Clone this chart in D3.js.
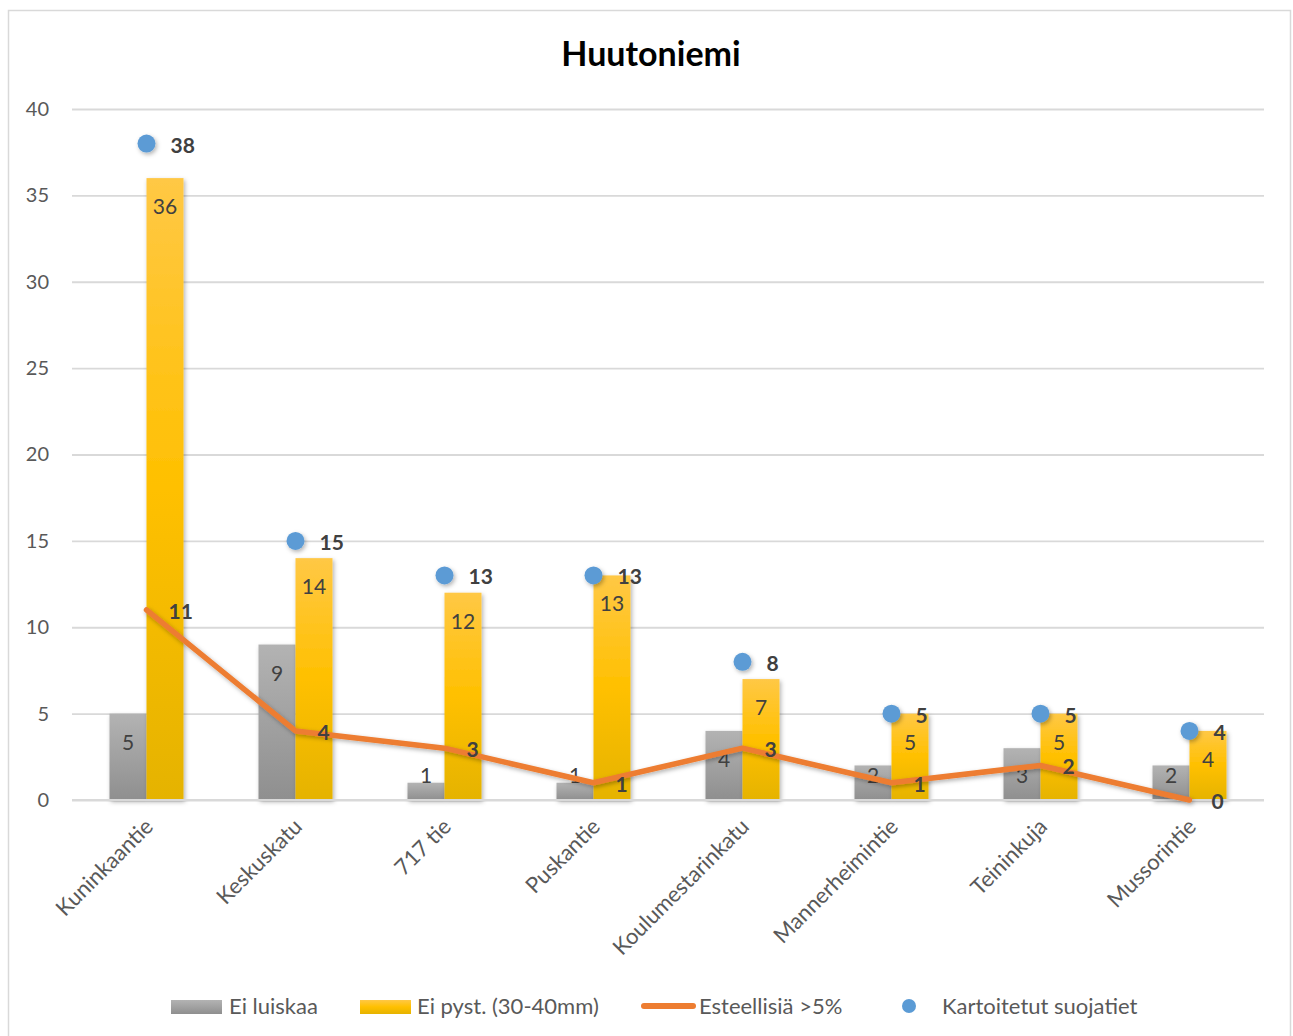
<!DOCTYPE html>
<html><head><meta charset="utf-8">
<script src="https://cdn.jsdelivr.net/npm/d3@7"></script>
<style>
body{margin:0;background:#fff;}
svg{display:block;font-family:Lato,"Open Sans",sans-serif;}
</style></head>
<body>
<svg id="c" width="1293" height="1036"></svg>
<script>
const categories = ["Kuninkaantie","Keskuskatu","717 tie","Puskantie","Koulumestarinkatu","Mannerheimintie","Teininkuja","Mussorintie"];
const eiLuiskaa = [5,9,1,1,4,2,3,2];
const eiPyst = [36,14,12,13,7,5,5,4];
const esteellisia = [11,4,3,1,3,1,2,0];
const kartoitetut = [38,15,13,13,8,5,5,4];
const yTicks = [0,5,10,15,20,25,30,35,40];
const seriesNames = ["Ei luiskaa","Ei pyst. (30-40mm)","Esteellisiä >5%","Kartoitetut suojatiet"];

const svg = d3.select("#c");
const defs = svg.append("defs");
const gg = defs.append("linearGradient").attr("id","gGray").attr("x1",0).attr("y1",0).attr("x2",0).attr("y2",1);
gg.append("stop").attr("offset","0%").attr("stop-color","#b3b3b3");
gg.append("stop").attr("offset","100%").attr("stop-color","#8f8f8f");
const gy = defs.append("linearGradient").attr("id","gYel").attr("x1",0).attr("y1",0).attr("x2",0).attr("y2",1);
gy.append("stop").attr("offset","0%").attr("stop-color","#ffc845");
gy.append("stop").attr("offset","50%").attr("stop-color","#ffc000");
gy.append("stop").attr("offset","100%").attr("stop-color","#e5b300");
const f = defs.append("filter").attr("id","sh").attr("x","-50%").attr("y","-50%").attr("width","200%").attr("height","200%");
f.append("feDropShadow").attr("dx",1.5).attr("dy",2).attr("stdDeviation",2).attr("flood-color","#000").attr("flood-opacity",0.3);

svg.append("rect").attr("x",8.5).attr("y",10.5).attr("width",1282).attr("height",1040).attr("fill","#fff").attr("stroke","#d9d9d9").attr("stroke-width",1.5);

svg.append("text").attr("x",651).attr("y",66).attr("text-anchor","middle").attr("font-size",34).attr("font-weight","bold").attr("fill","#000").text("Huutoniemi");

const x = d3.scaleBand().domain(categories).range([72,1264]);
const y = d3.scaleLinear().domain([0,40]).range([800,109]);
const bw = 37;

// grid
const yAxis = d3.axisLeft(y).tickValues(yTicks).tickSize(-(1264-72)).tickPadding(23).tickFormat(d3.format("d"));
const ga = svg.append("g").attr("transform","translate(72,0)").call(yAxis);
ga.select(".domain").remove();
ga.selectAll(".tick line").attr("stroke","#d9d9d9").attr("stroke-width",1.8);
ga.selectAll(".tick text").attr("font-size",20).attr("fill","#595959").attr("font-family","Lato,'Open Sans',sans-serif");

const cx = c => x(c) + x.bandwidth()/2;

// bars
svg.append("g").selectAll("rect").data(categories).join("rect")
  .attr("x",c=>cx(c)-bw).attr("width",bw)
  .attr("y",(c,i)=>y(eiLuiskaa[i])).attr("height",(c,i)=>y(0)-y(eiLuiskaa[i]))
  .attr("fill","url(#gGray)").attr("filter","url(#sh)");
svg.append("g").selectAll("rect").data(categories).join("rect")
  .attr("x",c=>cx(c)).attr("width",bw)
  .attr("y",(c,i)=>y(eiPyst[i])).attr("height",(c,i)=>y(0)-y(eiPyst[i]))
  .attr("fill","url(#gYel)").attr("filter","url(#sh)");

// axis baseline
svg.append("line").attr("x1",72).attr("x2",1264).attr("y1",800).attr("y2",800).attr("stroke","#d9d9d9").attr("stroke-width",2);

// bar labels
const lblY = v => Math.min(y(v)+36, 783);
svg.append("g").selectAll("text").data(categories).join("text")
  .attr("x",c=>cx(c)-bw/2).attr("y",(c,i)=>lblY(eiLuiskaa[i]))
  .attr("text-anchor","middle").attr("font-size",21).attr("fill","#404040").text((c,i)=>eiLuiskaa[i]);
svg.append("g").selectAll("text").data(categories).join("text")
  .attr("x",c=>cx(c)+bw/2).attr("y",(c,i)=>lblY(eiPyst[i]))
  .attr("text-anchor","middle").attr("font-size",21).attr("fill","#404040").text((c,i)=>eiPyst[i]);

// line
const line = d3.line().x((d,i)=>cx(categories[i])).y(d=>y(d));
svg.append("path").datum(esteellisia).attr("d",line).attr("fill","none")
  .attr("stroke","#ed7d31").attr("stroke-width",5.5).attr("stroke-linejoin","round").attr("stroke-linecap","round").attr("filter","url(#sh)");
svg.append("g").selectAll("text").data(esteellisia).join("text")
  .attr("x",(d,i)=>cx(categories[i])+22).attr("y",d=>y(d)+9)
  .attr("font-size",21).attr("font-weight","bold").attr("fill","#404040").text(d=>d);

// dots
svg.append("g").selectAll("circle").data(kartoitetut).join("circle")
  .attr("cx",(d,i)=>cx(categories[i])).attr("cy",d=>y(d)).attr("r",9)
  .attr("fill","#5b9bd5").attr("filter","url(#sh)");
svg.append("g").selectAll("text").data(kartoitetut).join("text")
  .attr("x",(d,i)=>cx(categories[i])+24).attr("y",d=>y(d)+9)
  .attr("font-size",21).attr("font-weight","bold").attr("fill","#404040").text(d=>d);

// x labels
svg.append("g").selectAll("text").data(categories).join("text")
  .attr("transform",c=>`translate(${cx(c)+8},${828}) rotate(-45)`)
  .attr("text-anchor","end").attr("font-size",22).attr("fill","#595959").text(c=>c);

// legend
const lg = svg.append("g");
lg.append("rect").attr("x",171).attr("y",1000).attr("width",51).attr("height",14).attr("fill","url(#gGray)");
lg.append("text").attr("x",229).attr("y",1014).attr("font-size",22).attr("fill","#595959").text(seriesNames[0]);
lg.append("rect").attr("x",360).attr("y",1000).attr("width",51).attr("height",14).attr("fill","url(#gYel)");
lg.append("text").attr("x",417).attr("y",1014).attr("font-size",22).attr("fill","#595959").text(seriesNames[1]);
lg.append("line").attr("x1",644).attr("x2",693).attr("y1",1006).attr("y2",1006).attr("stroke","#ed7d31").attr("stroke-width",6).attr("stroke-linecap","round");
lg.append("text").attr("x",699).attr("y",1014).attr("font-size",22).attr("fill","#595959").text(seriesNames[2]);
lg.append("circle").attr("cx",909).attr("cy",1006).attr("r",7).attr("fill","#5b9bd5");
lg.append("text").attr("x",942).attr("y",1014).attr("font-size",22).attr("fill","#595959").text(seriesNames[3]);
</script>
</body></html>
